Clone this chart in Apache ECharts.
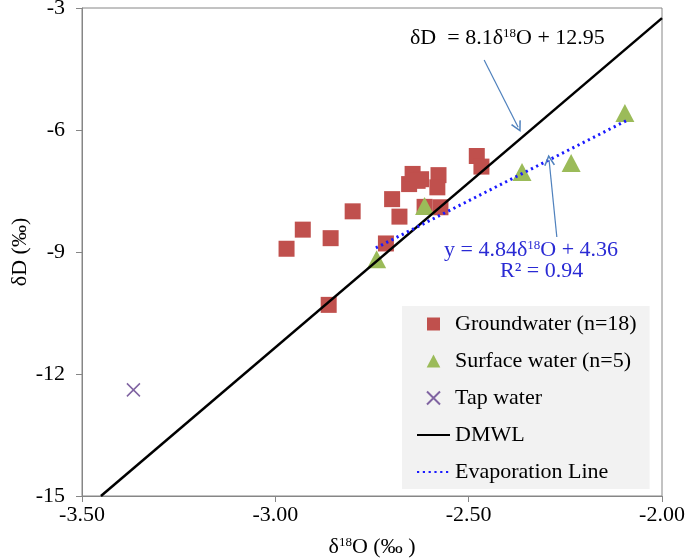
<!DOCTYPE html>
<html><head><meta charset="utf-8">
<script src="https://cdn.jsdelivr.net/npm/echarts@6/dist/echarts.min.js"></script>
<style>html,body{margin:0;padding:0;background:#fff}#c{width:685px;height:558px}</style>
</head><body><div id="c"></div>
<script>
// ---- data ----
const groundwaterX = [-2.971,-2.929,-2.857,-2.800,-2.862,-2.714,-2.698,-2.679,-2.654,-2.645,-2.623,-2.578,-2.581,-2.573,-2.479,-2.467,-2.614,-2.632];
const groundwaterY = [-8.92,-8.45,-8.66,-8.00,-10.30,-8.79,-7.70,-8.13,-7.33,-7.08,-7.21,-7.11,-7.41,-7.90,-6.64,-6.90,-7.89,-7.25];
const surfaceX = [-2.738,-2.614,-2.362,-2.235,-2.096];
const surfaceY = [-9.18,-7.87,-7.03,-6.81,-5.58];
const tapX = [-3.367];
const tapY = [-12.39];
const dmwlX = [-3.451,-2.00];
const dmwlY = [-15.00,-3.25];
const evapX = [-2.74,-2.09];
const evapY = [-8.90,-5.76];
const dmwlArrowX = [-2.460,-2.372];
const dmwlArrowY = [-4.28,-5.93];
const evapArrowX = [-2.272,-2.292];
const evapArrowY = [-8.63,-6.74];
const seriesNames = ['Groundwater (n=18)','Surface water (n=5)','Tap water','DMWL','Evaporation Line'];
const dmwlEquation = ['δD  = 8.1δ','18','O + 12.95'];
const evapEquation = ['y = 4.84δ','18','O + 4.36'];
const evapR2 = 'R² = 0.94';

const zip = (xs, ys) => xs.map((x, i) => [x, ys[i]]);
const FONT = 'Liberation Serif';
const squarePath = 'path://M0,0 L10,0 L10,10 L0,10 Z';
const trianglePath = 'path://M5,0 L10,9.5 L0,9.5 Z';
const crossPath = 'path://M0,0 L10,10 M10,0 L0,10';
const chevron = 'path://M0,10 L5,0 L10,10 L8.7,10.6 L5,3 L1.3,10.6 Z';

const chart = echarts.init(document.getElementById('c'), null, {renderer: 'canvas'});
chart.setOption({
  animation: false,
  backgroundColor: '#fff',
  grid: {left: 82, right: 23, top: 8, bottom: 62, show: true, borderColor: '#868686', borderWidth: 1,
         backgroundColor: 'transparent', containLabel: false, outerBoundsMode: 'none'},
  xAxis: {
    type: 'value', min: -3.5, max: -2.0, interval: 0.5,
    name: '{a|δ}{s|18}{a|O (‰ )}', nameLocation: 'middle', nameGap: 40, nameMoveOverlap: false,
    nameTextStyle: {fontFamily: FONT, fontSize: 22, color: '#000',
      rich: {a: {fontFamily: FONT, fontSize: 22, color: '#000', verticalAlign: 'bottom'},
             s: {fontFamily: FONT, fontSize: 13, color: '#000', verticalAlign: 'bottom', padding: [0,0,9,0]}}},
    axisLine: {show: true, lineStyle: {color: '#868686', width: 1}},
    axisTick: {show: true, length: 6, lineStyle: {color: '#868686'}},
    axisLabel: {fontFamily: FONT, fontSize: 22, color: '#000', margin: 8, formatter: v => v.toFixed(2)},
    splitLine: {show: false}
  },
  yAxis: {
    type: 'value', min: -15, max: -3, interval: 3,
    name: 'δD (‰)', nameLocation: 'middle', nameGap: 51, nameMoveOverlap: false,
    nameTextStyle: {fontFamily: FONT, fontSize: 22, color: '#000'},
    axisLine: {show: true, lineStyle: {color: '#868686', width: 1}},
    axisTick: {show: true, length: 6, lineStyle: {color: '#868686'}},
    axisLabel: {fontFamily: FONT, fontSize: 22, color: '#000', margin: 17},
    splitLine: {show: false}
  },
  legend: {
    orient: 'vertical', left: 402, top: 306,
    padding: [7, 13, 6, 14],
    backgroundColor: '#f2f2f2',
    itemWidth: 33, itemHeight: 13, itemGap: 15,
    symbolKeepAspect: true,
    textStyle: {fontFamily: FONT, fontSize: 22, color: '#000', lineHeight: 22},
    data: [
      {name: seriesNames[0]},
      {name: seriesNames[1]},
      {name: seriesNames[2]},
      {name: seriesNames[3], itemStyle: {opacity: 0}},
      {name: seriesNames[4], itemStyle: {opacity: 0}}
    ]
  },
  series: [
    {name: seriesNames[0], type: 'scatter', symbol: squarePath, symbolSize: 16, symbolKeepAspect: true,
     itemStyle: {color: '#c0504d', opacity: 1}, data: zip(groundwaterX, groundwaterY)},
    {name: seriesNames[1], type: 'scatter', symbol: trianglePath, symbolSize: [19, 18],
     itemStyle: {color: '#9bbb59', opacity: 1}, data: zip(surfaceX, surfaceY)},
    {name: seriesNames[2], type: 'scatter', symbol: crossPath, symbolSize: 13,
     itemStyle: {color: 'rgba(0,0,0,0)', borderColor: '#8064a2', borderWidth: 1.5, opacity: 1}, data: zip(tapX, tapY)},
    {name: seriesNames[3], type: 'line', symbol: 'none', showSymbol: false,
     lineStyle: {color: '#000', width: 2.5}, itemStyle: {color: '#000'},
     data: zip(dmwlX, dmwlY),
     markLine: {silent: true, symbol: ['none', chevron], symbolSize: 11, label: {show: false},
       lineStyle: {color: '#4f81bd', width: 1.2, type: 'solid'},
       data: [[{coord: [dmwlArrowX[0], dmwlArrowY[0]]}, {coord: [dmwlArrowX[1], dmwlArrowY[1]]}]]}},
    {name: seriesNames[4], type: 'line', symbol: 'none', showSymbol: false,
     lineStyle: {color: '#1a1aff', width: 3, type: [2.2, 3.6]}, itemStyle: {color: '#1a1aff'},
     data: zip(evapX, evapY),
     markLine: {silent: true, symbol: ['none', chevron], symbolSize: 11, label: {show: false},
       lineStyle: {color: '#4f81bd', width: 1.2, type: 'solid'},
       data: [[{coord: [evapArrowX[0], evapArrowY[0]]}, {coord: [evapArrowX[1], evapArrowY[1]]}]]}}
  ],
  graphic: [
    {type: 'text', left: 410, top: 27, silent: true,
     style: {text: '{n|' + dmwlEquation[0] + '}{s|' + dmwlEquation[1] + '}{n|' + dmwlEquation[2] + '}',
       rich: {n: {fontFamily: FONT, fontSize: 22, fill: '#000', verticalAlign: 'bottom'},
              s: {fontFamily: FONT, fontSize: 13, fill: '#000', verticalAlign: 'bottom', padding: [0,0,9,0]}}}},
    {type: 'text', left: 444, top: 239, silent: true,
     style: {text: '{n|' + evapEquation[0] + '}{s|' + evapEquation[1] + '}{n|' + evapEquation[2] + '}',
       rich: {n: {fontFamily: FONT, fontSize: 22, fill: '#2a2ad4', verticalAlign: 'bottom'},
              s: {fontFamily: FONT, fontSize: 13, fill: '#2a2ad4', verticalAlign: 'bottom', padding: [0,0,9,0]}}}},
    {type: 'text', left: 500, top: 260, silent: true,
     style: {text: evapR2, fontFamily: FONT, fontSize: 22, fill: '#2a2ad4'}}
  ]
});
</script></body></html>
